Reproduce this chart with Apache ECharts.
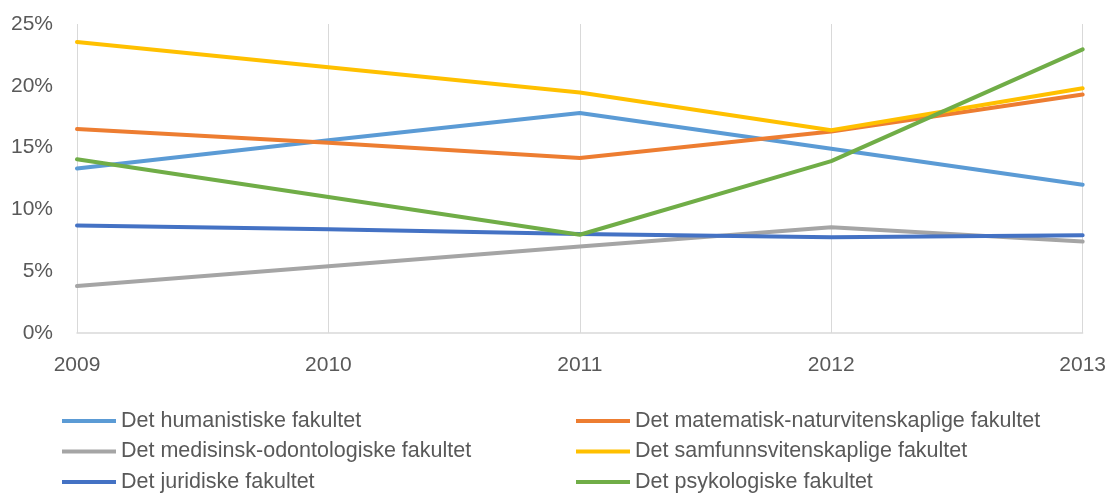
<!DOCTYPE html>
<html>
<head>
<meta charset="utf-8">
<script src="https://cdn.jsdelivr.net/npm/echarts@6/dist/echarts.min.js"></script>
<style>html,body{margin:0;padding:0;background:#fff}#c{width:1109px;height:493px}</style>
</head>
<body>
<div id="c"></div>
<script>
const years = ['2009', '2010', '2011', '2012', '2013'];
const seriesNames = [
  'Det humanistiske fakultet',
  'Det matematisk-naturvitenskaplige fakultet',
  'Det medisinsk-odontologiske fakultet',
  'Det samfunnsvitenskaplige fakultet',
  'Det juridiske fakultet',
  'Det psykologiske fakultet'
];
const humanistiske = [13.3, 15.6, 17.8, 14.9, 12.0];
const matnat = [16.5, 15.4, 14.15, 16.3, 19.3];
const medisin = [3.8, 5.4, 7.0, 8.55, 7.4];
const samfunn = [23.55, 21.5, 19.45, 16.4, 19.8];
const juridiske = [8.7, 8.4, 8.0, 7.75, 7.9];
const psykologi = [14.05, 11.0, 7.95, 13.9, 22.95];
const yTicks = [0, 5, 10, 15, 20, 25];

const colors = ['#5B9BD5', '#ED7D31', '#A5A5A5', '#FFC000', '#4472C4', '#70AD47'];
const values = [humanistiske, matnat, medisin, samfunn, juridiske, psykologi];
const font = 'Liberation Sans';

const chart = echarts.init(document.getElementById('c'));
const legendCommon = {
  orient: 'vertical',
  top: 409,
  height: 100,
  padding: 0,
  icon: 'rect',
  itemWidth: 54,
  itemHeight: 4,
  itemGap: 6.5,
  textStyle: { fontFamily: font, fontSize: 21.5, color: '#595959', lineHeight: 24 }
};
chart.setOption({
  animation: false,
  color: colors,
  grid: { left: 77, right: 26, top: 24, bottom: 160 },
  legend: [
    Object.assign({ left: 62, data: [seriesNames[0], seriesNames[2], seriesNames[4]] }, legendCommon),
    Object.assign({ left: 576, data: [seriesNames[1], seriesNames[3], seriesNames[5]] }, legendCommon)
  ],
  xAxis: {
    type: 'category',
    data: years,
    boundaryGap: false,
    axisLine: { lineStyle: { color: '#d9d9d9', width: 1.5 } },
    axisTick: { show: false },
    axisLabel: { fontFamily: font, fontSize: 21, color: '#595959', margin: 22 },
    splitLine: { show: true, lineStyle: { color: '#d9d9d9', width: 1 } }
  },
  yAxis: {
    type: 'value',
    min: yTicks[0],
    max: yTicks[yTicks.length - 1],
    interval: 5,
    axisLine: { show: false },
    axisTick: { show: false },
    splitLine: { show: false },
    axisLabel: { fontFamily: font, fontSize: 21, color: '#595959', margin: 24, formatter: v => v + '%' }
  },
  series: seriesNames.map((n, i) => ({
    name: n,
    type: 'line',
    data: values[i],
    symbol: 'none',
    lineStyle: { width: 4, color: colors[i], cap: 'round' },
    itemStyle: { color: colors[i] }
  }))
});
</script>
</body>
</html>
